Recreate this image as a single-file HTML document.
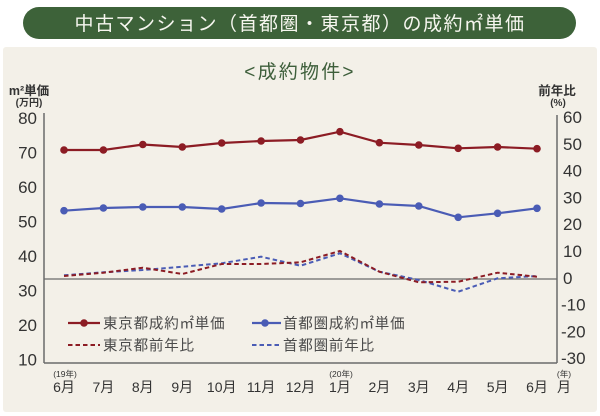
<!DOCTYPE html>
<html><head><meta charset="utf-8">
<style>
html,body{margin:0;padding:0;background:#fff;}
svg{display:block;}
.jp{font-family:"Liberation Sans","Noto Sans CJK JP",sans-serif;}
.num{font-family:"Liberation Sans","Noto Sans CJK JP",sans-serif;font-size:17px;fill:#333;}
.mon{font-family:"Liberation Sans","Noto Sans CJK JP",sans-serif;font-size:14px;fill:#333;}
.yr{font-family:"Liberation Sans","Noto Sans CJK JP",sans-serif;font-size:8.5px;fill:#333;}
.leg{font-family:"Liberation Sans","Noto Sans CJK JP",sans-serif;font-size:14.5px;fill:#4a4a4a;letter-spacing:0.8px;}
</style></head>
<body>
<svg width="600" height="416" viewBox="0 0 600 416" xmlns="http://www.w3.org/2000/svg">
<rect x="0" y="0" width="600" height="416" fill="#ffffff"/>
<rect x="3" y="47" width="594" height="365" rx="3" fill="#f3f0e8"/>
<!-- title pill -->
<rect x="23" y="7" width="553" height="32" rx="16" fill="#3d6239"/>
<text x="300" y="30" text-anchor="middle" class="jp" font-size="19" fill="#f6f6ef" letter-spacing="1.5">中古マンション（首都圏・東京都）の成約㎡単価</text>
<!-- subtitle -->
<text x="300" y="78" text-anchor="middle" class="jp" font-size="19" fill="#3d5e3a" letter-spacing="2.2">&lt;成約物件&gt;</text>
<!-- axis titles -->
<text x="29" y="95" text-anchor="middle" class="jp" font-size="12.5" font-weight="bold" fill="#333">m²単価</text>
<text x="29" y="106" text-anchor="middle" class="jp" font-size="10" font-weight="bold" fill="#333">(万円)</text>
<text x="557" y="95" text-anchor="middle" class="jp" font-size="12.5" font-weight="bold" fill="#333">前年比</text>
<text x="558" y="106" text-anchor="middle" class="jp" font-size="10" font-weight="bold" fill="#333">(%)</text>
<!-- axes -->
<line x1="44" y1="113" x2="44" y2="363" stroke="#6a6a6a" stroke-width="1.5"/>
<line x1="557" y1="115" x2="557" y2="363" stroke="#6a6a6a" stroke-width="1.5"/>
<line x1="44" y1="363" x2="557" y2="363" stroke="#6a6a6a" stroke-width="1.5"/>
<line x1="44" y1="279" x2="557" y2="279" stroke="#6a6a6a" stroke-width="1.3"/>
<!-- left labels -->
<g class="num" text-anchor="end">
<text x="37" y="124">80</text>
<text x="37" y="158.5">70</text>
<text x="37" y="193">60</text>
<text x="37" y="227.5">50</text>
<text x="37" y="262">40</text>
<text x="37" y="296.5">30</text>
<text x="37" y="331">20</text>
<text x="37" y="365.5">10</text>
</g>
<!-- right labels -->
<g class="num" text-anchor="start">
<text x="563" y="123">60</text>
<text x="563" y="149.8">50</text>
<text x="563" y="176.6">40</text>
<text x="563" y="203.4">30</text>
<text x="563" y="230.2">20</text>
<text x="563" y="257">10</text>
<text x="563" y="283.8">0</text>
<text x="561" y="310.6">-10</text>
<text x="561" y="337.4">-20</text>
<text x="561" y="364.2">-30</text>
</g>
<!-- dashed series -->
<polyline fill="none" stroke="#4a5cb5" stroke-width="2" stroke-dasharray="4.5,3"
 points="64,275.3 103.4,272.3 142.8,270 182.3,266.7 221.7,263.3 261.1,256.7 300.5,265.7 339.9,253.3 379.4,271.7 418.8,280 458.2,291.7 497.6,278.3 537,276"/>
<polyline fill="none" stroke="#8c1c24" stroke-width="2" stroke-dasharray="4.5,3"
 points="64,276 103.4,272.7 142.8,267.7 182.3,274 221.7,264 261.1,264 300.5,262.3 339.9,251 379.4,271.7 418.8,282.3 458.2,281.7 497.6,272.7 537,276.7"/>
<!-- Tokyo solid -->
<g fill="#8c1c24">
<polyline fill="none" stroke="#8c1c24" stroke-width="2.2"
 points="64,150 103.4,150 142.8,144.5 182.3,147 221.7,143 261.1,141 300.5,140 339.9,131.7 379.4,142.7 418.8,145 458.2,148.3 497.6,147 537,148.7"/>
<circle cx="64" cy="150" r="3.8"/><circle cx="103.4" cy="150" r="3.8"/><circle cx="142.8" cy="144.5" r="3.8"/>
<circle cx="182.3" cy="147" r="3.8"/><circle cx="221.7" cy="143" r="3.8"/><circle cx="261.1" cy="141" r="3.8"/>
<circle cx="300.5" cy="140" r="3.8"/><circle cx="339.9" cy="131.7" r="3.8"/><circle cx="379.4" cy="142.7" r="3.8"/>
<circle cx="418.8" cy="145" r="3.8"/><circle cx="458.2" cy="148.3" r="3.8"/><circle cx="497.6" cy="147" r="3.8"/>
<circle cx="537" cy="148.7" r="3.8"/>
</g>
<!-- Metro solid -->
<g fill="#4a5cb5">
<polyline fill="none" stroke="#4a5cb5" stroke-width="2.2"
 points="64,210.7 103.4,208 142.8,207 182.3,207 221.7,209 261.1,203 300.5,203.5 339.9,198.3 379.4,204 418.8,206 458.2,217.3 497.6,213.3 537,208.3"/>
<circle cx="64" cy="210.7" r="3.8"/><circle cx="103.4" cy="208" r="3.8"/><circle cx="142.8" cy="207" r="3.8"/>
<circle cx="182.3" cy="207" r="3.8"/><circle cx="221.7" cy="209" r="3.8"/><circle cx="261.1" cy="203" r="3.8"/>
<circle cx="300.5" cy="203.5" r="3.8"/><circle cx="339.9" cy="198.3" r="3.8"/><circle cx="379.4" cy="204" r="3.8"/>
<circle cx="418.8" cy="206" r="3.8"/><circle cx="458.2" cy="217.3" r="3.8"/><circle cx="497.6" cy="213.3" r="3.8"/>
<circle cx="537" cy="208.3" r="3.8"/>
</g>
<!-- legend -->
<line x1="68" y1="323" x2="100" y2="323" stroke="#8c1c24" stroke-width="2.2"/>
<circle cx="84" cy="323" r="3.8" fill="#8c1c24"/>
<text x="103" y="328.5" class="leg">東京都成約㎡単価</text>
<line x1="68" y1="345" x2="100" y2="345" stroke="#8c1c24" stroke-width="2" stroke-dasharray="4.5,3"/>
<text x="103" y="350.5" class="leg">東京都前年比</text>
<line x1="252" y1="323" x2="281" y2="323" stroke="#4a5cb5" stroke-width="2.2"/>
<circle cx="265" cy="323" r="3.8" fill="#4a5cb5"/>
<text x="283" y="328.5" class="leg">首都圏成約㎡単価</text>
<line x1="252" y1="345" x2="281" y2="345" stroke="#4a5cb5" stroke-width="2" stroke-dasharray="4.5,3"/>
<text x="283" y="350.5" class="leg">首都圏前年比</text>
<!-- x labels -->
<g class="mon" text-anchor="middle">
<text x="64" y="392">6月</text>
<text x="103.4" y="392">7月</text>
<text x="142.8" y="392">8月</text>
<text x="182.3" y="392">9月</text>
<text x="221.7" y="392">10月</text>
<text x="261.1" y="392">11月</text>
<text x="300.5" y="392">12月</text>
<text x="339.9" y="392">1月</text>
<text x="379.4" y="392">2月</text>
<text x="418.8" y="392">3月</text>
<text x="458.2" y="392">4月</text>
<text x="497.6" y="392">5月</text>
<text x="537" y="392">6月</text>
<text x="564" y="392">月</text>
</g>
<g class="yr" text-anchor="middle">
<text x="65" y="377">(19年)</text>
<text x="341" y="377">(20年)</text>
<text x="564" y="377">(年)</text>
</g>
</svg>
</body></html>
